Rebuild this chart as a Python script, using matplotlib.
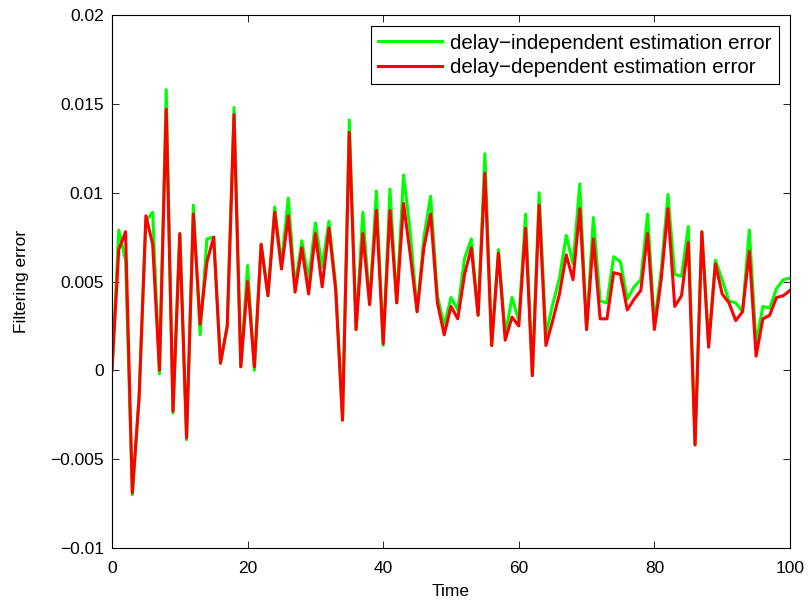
"""Filtering error comparison: delay-independent vs delay-dependent estimation."""
import matplotlib
matplotlib.use("Agg")
import matplotlib.pyplot as plt
import numpy as np

plt.rcParams["font.family"] = ["Liberation Sans", "DejaVu Sans"]

# ---------------------------------------------------------------------------
# Data (one sample per time step 0..100)
# ---------------------------------------------------------------------------
time = np.arange(0, 101)

err_independent = [
    0.0, 0.0079, 0.0062, -0.0070, -0.0015, 0.0084, 0.0089, -0.0002, 0.0158, -0.0024,
    0.0077, -0.0039, 0.0093, 0.0020, 0.0074, 0.0075, 0.0004, 0.0025, 0.0148, 0.0002,
    0.0059, 0.0000, 0.0071, 0.0042, 0.0092, 0.0060, 0.0097, 0.0047, 0.0073, 0.0051,
    0.0083, 0.0058, 0.0084, 0.0048, -0.0028, 0.0141, 0.0023, 0.0089, 0.0037, 0.0101,
    0.0014, 0.0102, 0.0038, 0.0110, 0.0078, 0.0033, 0.0075, 0.0098, 0.0042, 0.0025,
    0.0041, 0.0034, 0.0063, 0.0074, 0.0031, 0.0122, 0.0014, 0.0068, 0.0020, 0.0041,
    0.0028, 0.0088, -0.0003, 0.0100, 0.0020, 0.0037, 0.0052, 0.0076, 0.0060, 0.0105,
    0.0023, 0.0086, 0.0039, 0.0038, 0.0064, 0.0061, 0.0040, 0.0047, 0.0051, 0.0088,
    0.0026, 0.0056, 0.0099, 0.0054, 0.0053, 0.0081, -0.0042, 0.0078, 0.0015, 0.0062,
    0.0051, 0.0039, 0.0038, 0.0033, 0.0079, 0.0015, 0.0036, 0.0035, 0.0046, 0.0051,
    0.0052,
]

err_dependent = [
    0.0, 0.0068, 0.0078, -0.0069, -0.0015, 0.0087, 0.0071, 0.0000, 0.0147, -0.0023,
    0.0077, -0.0038, 0.0088, 0.0026, 0.0061, 0.0075, 0.0004, 0.0025, 0.0144, 0.0002,
    0.0050, 0.0002, 0.0071, 0.0042, 0.0089, 0.0057, 0.0087, 0.0044, 0.0069, 0.0043,
    0.0077, 0.0047, 0.0080, 0.0045, -0.0028, 0.0134, 0.0023, 0.0077, 0.0037, 0.0090,
    0.0015, 0.0090, 0.0038, 0.0094, 0.0065, 0.0033, 0.0069, 0.0088, 0.0038, 0.0020,
    0.0036, 0.0029, 0.0054, 0.0069, 0.0031, 0.0111, 0.0014, 0.0066, 0.0017, 0.0030,
    0.0025, 0.0080, -0.0003, 0.0093, 0.0014, 0.0028, 0.0043, 0.0065, 0.0051, 0.0091,
    0.0023, 0.0074, 0.0029, 0.0029, 0.0055, 0.0054, 0.0034, 0.0040, 0.0045, 0.0077,
    0.0023, 0.0051, 0.0091, 0.0036, 0.0042, 0.0072, -0.0042, 0.0078, 0.0013, 0.0060,
    0.0043, 0.0038, 0.0028, 0.0033, 0.0067, 0.0008, 0.0029, 0.0031, 0.0041, 0.0042,
    0.0045,
]

y_ticks = [-0.01, -0.005, 0, 0.005, 0.01, 0.015, 0.02]
y_tick_labels = ["\u22120.01", "\u22120.005", "0", "0.005", "0.01", "0.015", "0.02"]
x_ticks = [0, 20, 40, 60, 80, 100]

# ---------------------------------------------------------------------------
# Figure
# ---------------------------------------------------------------------------
fig = plt.figure(figsize=(8.08, 6.03), dpi=100)
ax = fig.add_axes([0.1386, 0.0912, 0.8391, 0.8838])

ax.plot(time, err_independent, color=(0, 1, 0), linewidth=2.2,
        label="delay\u2212independent estimation error")
ax.plot(time, err_dependent, color=(1, 0, 0), linewidth=2.2,
        label="delay\u2212dependent estimation error")

ax.set_xlim(0, 100)
ax.set_ylim(-0.01, 0.02)
ax.set_xticks(x_ticks)
ax.set_yticks(y_ticks)
ax.set_yticklabels(y_tick_labels)

ax.tick_params(direction="in", top=True, right=True, length=5, width=0.6,
               labelsize=12.5)
ax.tick_params(axis="x", pad=9)
ax.tick_params(axis="y", pad=6)
for spine in ax.spines.values():
    spine.set_linewidth(0.8)

ax.set_xlabel("Time", fontsize=12.5, labelpad=6)
ax.set_ylabel("Filtering error", fontsize=12.5, labelpad=15)

leg = ax.legend(loc="upper right", fontsize=14.8, frameon=True, fancybox=False,
                edgecolor="black", framealpha=1, handlelength=3.1,
                borderpad=0.35, labelspacing=0.25, borderaxespad=0.55,
                handletextpad=0.4)
leg.get_frame().set_linewidth(0.8)

fig.savefig("out.png", dpi=100)
plt.close(fig)
